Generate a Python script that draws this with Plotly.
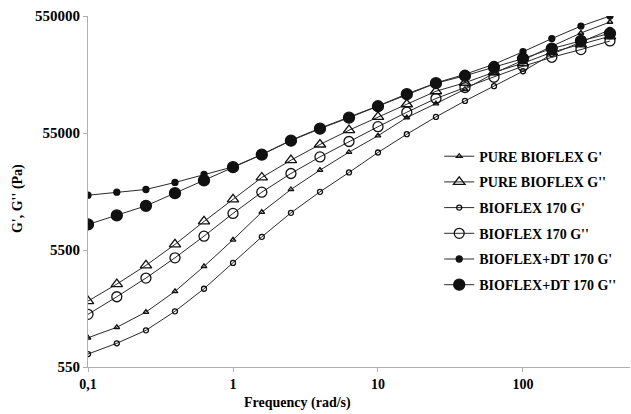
import plotly.graph_objects as go

freq = [0.1, 0.158, 0.251, 0.398, 0.631, 1, 1.58, 2.51, 3.98, 6.31, 10, 15.8, 25.1, 39.8, 63.1, 100, 158, 251, 398]

pure_g1 = [978, 1201, 1622, 2437, 3984, 6724, 11590, 18110, 26470, 37700, 52140, 74600, 98200, 130100, 178300, 230100, 303100, 393700, 488800]
pure_g2 = [2013, 2813, 4063, 6140, 9650, 14880, 22930, 32220, 43870, 58130, 75500, 96900, 125100, 147900, 181800, 217000, 269400, 315300, 369000]
b170_g1 = [710, 877, 1132, 1645, 2565, 4268, 7128, 11430, 17280, 25300, 37490, 53710, 75500, 103400, 138100, 185500, 259000, 328000, 419300]
b170_g2 = [1550, 2191, 3165, 4718, 7227, 11300, 17170, 24800, 34380, 46550, 62270, 82800, 108400, 134600, 164800, 204600, 244100, 284100, 336500]
dt_g1 = [16170, 17170, 18100, 20780, 24300, 28230, 36040, 47740, 60440, 75030, 93670, 118700, 147300, 174800, 212700, 272100, 352700, 450900, 550000]
dt_g2 = [9097, 10860, 13120, 16840, 21610, 28080, 35900, 47280, 59840, 74300, 93100, 118000, 146500, 169700, 200600, 238000, 289700, 336500, 391500]

names = ["PURE BIOFLEX G'", "PURE BIOFLEX G''", "BIOFLEX 170 G'", "BIOFLEX 170 G''", "BIOFLEX+DT 170 G'", "BIOFLEX+DT 170 G''"]
series = [pure_g1, pure_g2, b170_g1, b170_g2, dt_g1, dt_g2]
symbols = ["triangle-up-open", "triangle-up-open", "circle-open", "circle-open", "circle", "circle"]
sizes = [5, 10, 5, 10, 6, 11]

x_ticks = [0.1, 1, 10, 100]
x_ticktext = ["0,1", "1", "10", "100"]
y_ticks = [550, 5500, 55000, 550000]
y_ticktext = ["550", "5500", "55000", "550000"]

FONT = "Liberation Serif"
fig = go.Figure()
for i, (n, s) in enumerate(zip(names, series)):
    fig.add_trace(go.Scatter(
        x=freq, y=s, name=n, mode="lines+markers", legendgroup=str(i),
        line=dict(color="#2a2a2a", width=1),
        marker=dict(symbol=symbols[i], size=sizes[i], color="#111111",
                    line=dict(color="#111111", width=1.3)),
    ))

fig.update_layout(
    width=631, height=414,
    margin=dict(l=88, r=1, t=16, b=47),
    paper_bgcolor="white", plot_bgcolor="white",
    font=dict(family=FONT, color="black", size=14, weight="bold"),
    showlegend=True,
    legend=dict(x=0.648, xanchor="left", y=0.645, yanchor="top",
                font=dict(family=FONT, size=14, color="black", weight="bold"),
                tracegroupgap=4.5, bgcolor="rgba(0,0,0,0)", itemwidth=30),
)
fig.update_xaxes(type="log", range=[-1, 2.738], tickvals=x_ticks, ticktext=x_ticktext,
                 showgrid=False, zeroline=False, showline=True, linecolor="#b0b0b0", linewidth=1,
                 ticks="outside", ticklen=4, tickcolor="#b0b0b0",
                 tickfont=dict(family=FONT, size=14, weight="bold"))
fig.update_yaxes(type="log", range=[2.7404, 5.7404], tickvals=y_ticks, ticktext=y_ticktext,
                 showgrid=False, zeroline=False, showline=True, linecolor="#b0b0b0", linewidth=1,
                 ticks="outside", ticklen=4, tickcolor="#b0b0b0",
                 tickfont=dict(family=FONT, size=15, weight="bold"))
fig.add_annotation(text="Frequency (rad/s)", xref="paper", yref="paper", x=0.386, y=-0.103,
                   yanchor="middle", showarrow=False,
                   font=dict(family=FONT, size=14, weight="bold"))
fig.add_annotation(text="G', G'' (Pa)", xref="paper", yref="paper", x=-0.13, y=0.48,
                   textangle=-90, showarrow=False, xanchor="center",
                   font=dict(family=FONT, size=14, weight="bold"))
fig.write_html("out.html")
